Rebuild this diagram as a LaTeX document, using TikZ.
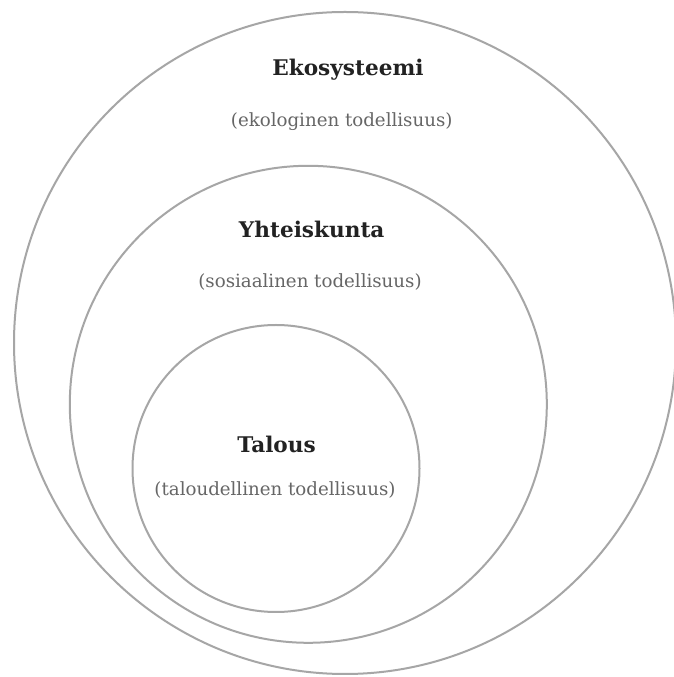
\documentclass[tikz,border=0pt]{standalone}
\usepackage{fontspec}
\setmainfont{DejaVu Serif}
\definecolor{ringgray}{HTML}{A6A6A6}
\definecolor{titlecol}{HTML}{222222}
\definecolor{subcol}{HTML}{666666}
\begin{document}
\begin{tikzpicture}[x=1pt,y=1pt,
  ring/.style={circle,draw=ringgray,line width=2pt,inner sep=0pt},
  title/.style={anchor=base,font=\bfseries\fontsize{21.6}{24}\selectfont,text=titlecol,inner sep=0pt},
  sub/.style={anchor=base,font=\fontsize{18.2}{21}\selectfont,text=subcol,inner sep=0pt}]
\useasboundingbox (0,0) rectangle (674,677);
\clip (0,0) rectangle (674,677);
\fill[white] (0,0) rectangle (674,677);
\node[ring,minimum size=662pt] (eco) at (345,334) {};
\node[ring,minimum size=477pt] (soc) at (308.3,272.7) {};
\node[ring,minimum size=287pt] (econ) at (276,208.5) {};
\node[title] (ekot) at (348,601) {Ekosysteemi};
\node[sub] (ekos) at (341.7,550) {(ekologinen todellisuus)};
\node[title] (yht) at (311.7,439) {Yhteiskunta};
\node[sub] (yhts) at (310,389) {(sosiaalinen todellisuus)};
\node[title] (tal) at (276.5,224.7) {Talous};
\node[sub] (tals) at (275,181) {(taloudellinen todellisuus)};
\end{tikzpicture}
\end{document}
